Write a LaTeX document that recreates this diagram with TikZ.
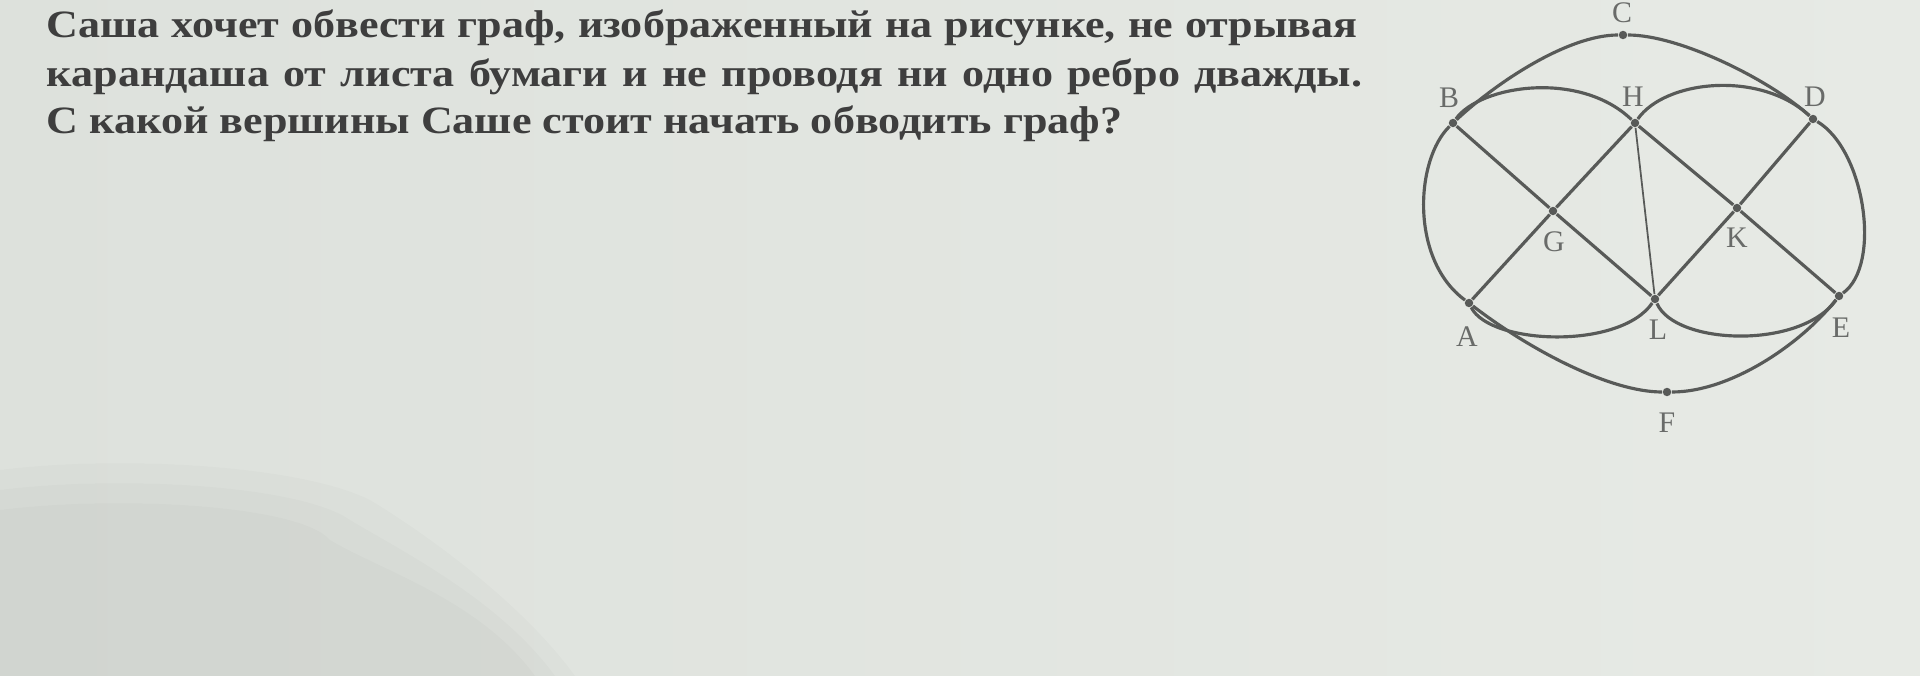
\documentclass[tikz,border=0pt]{standalone}
\usepackage{fontspec}
\setmainfont{Liberation Serif}
\newfontfamily\probfont[FakeStretch=1.14]{Liberation Serif}
\definecolor{paper}{RGB}{221,225,220}
\definecolor{paperlight}{RGB}{231,234,229}
\definecolor{inkgray}{RGB}{62,62,62}
\definecolor{linegray}{RGB}{88,90,88}
\definecolor{labgray}{RGB}{105,107,105}
\begin{document}
\begin{tikzpicture}[x=0.01cm,y=-0.01cm,
  vertex/.style={circle,fill=linegray,inner sep=0pt,minimum size=2.4pt},
  lbl/.style={font=\fontsize{8.5}{10}\selectfont,text=labgray,inner sep=0pt},
  row/.style={anchor=base west,inner sep=0pt,text=inkgray,
    font=\probfont\bfseries\fontsize{11}{13}\selectfont},
  edge/.style={draw=linegray,line width=0.9pt}]
\useasboundingbox (0,0) rectangle (1920,676);
\shade[left color=paper,right color=paperlight] (0,0) rectangle (1920,676);
\foreach \s in {0,20,40}
  \fill[black,opacity=0.015] (0,676) -- (0,470+\s) .. controls (120,455+\s) and (300,465+\s) .. (370-\s,500+\s)
    .. controls (420-\s,530+\s) and (520-\s,600) .. (575-\s,676) -- cycle;
% text
\node[row] (row1) at (46,38) {\makebox[13.1cm][s]{Саша хочет обвести граф, изображенный на рисунке, не отрывая}};
\node[row] (row2) at (46,87) {\makebox[13.15cm][s]{карандаша от листа бумаги и не проводя ни одно ребро дважды.}};
\node[row] (row3) at (46,134) {С какой вершины Саше стоит начать обводить граф?};
% vertices
\node[vertex] (A) at (1469,303) {};
\node[vertex] (B) at (1453,123) {};
\node[vertex] (C) at (1623,35) {};
\node[vertex] (D) at (1813,119) {};
\node[vertex] (E) at (1839,296) {};
\node[vertex] (F) at (1667,392) {};
\node[vertex] (G) at (1553,211) {};
\node[vertex] (H) at (1635,123) {};
\node[vertex] (K) at (1737,208) {};
\node[vertex] (L) at (1655,299) {};
% labels
\node[lbl] (labA) at (1467,337) {A};
\node[lbl] (labB) at (1449,98) {B};
\node[lbl] (labC) at (1622,13) {C};
\node[lbl] (labD) at (1815,97) {D};
\node[lbl] (labE) at (1841,328) {E};
\node[lbl] (labF) at (1667,423) {F};
\node[lbl] (labG) at (1554,242) {G};
\node[lbl] (labH) at (1633,97) {H};
\node[lbl] (labK) at (1737,238) {K};
\node[lbl] (labL) at (1658,330) {L};
% outer curve
\draw[edge] (B) .. controls (1415,160) and (1410,260) .. (A);
\draw[edge] (B) .. controls (1497,82) and (1568,35) .. (C);
\draw[edge] (C) .. controls (1680,35) and (1770,80) .. (D);
\draw[edge] (D) .. controls (1865,150) and (1882,265) .. (E);
\draw[edge] (A) .. controls (1530,350) and (1610,392) .. (F);
\draw[edge] (F) .. controls (1730,392) and (1800,345) .. (E);
% inner arcs
\draw[edge] (B) .. controls (1480,85) and (1580,70) .. (H);
\draw[edge] (H) .. controls (1665,80) and (1760,70) .. (D);
\draw[edge] (A) .. controls (1490,345) and (1620,350) .. (L);
\draw[edge] (L) .. controls (1675,345) and (1800,350) .. (E);
% straight edges
\draw[edge] (B) -- (G) -- (L);
\draw[edge] (A) -- (G) -- (H);
\draw[edge] (H) -- (K) -- (E);
\draw[edge] (L) -- (K) -- (D);
\draw[edge,line width=0.5pt] (H) -- (L);
\end{tikzpicture}
\end{document}
